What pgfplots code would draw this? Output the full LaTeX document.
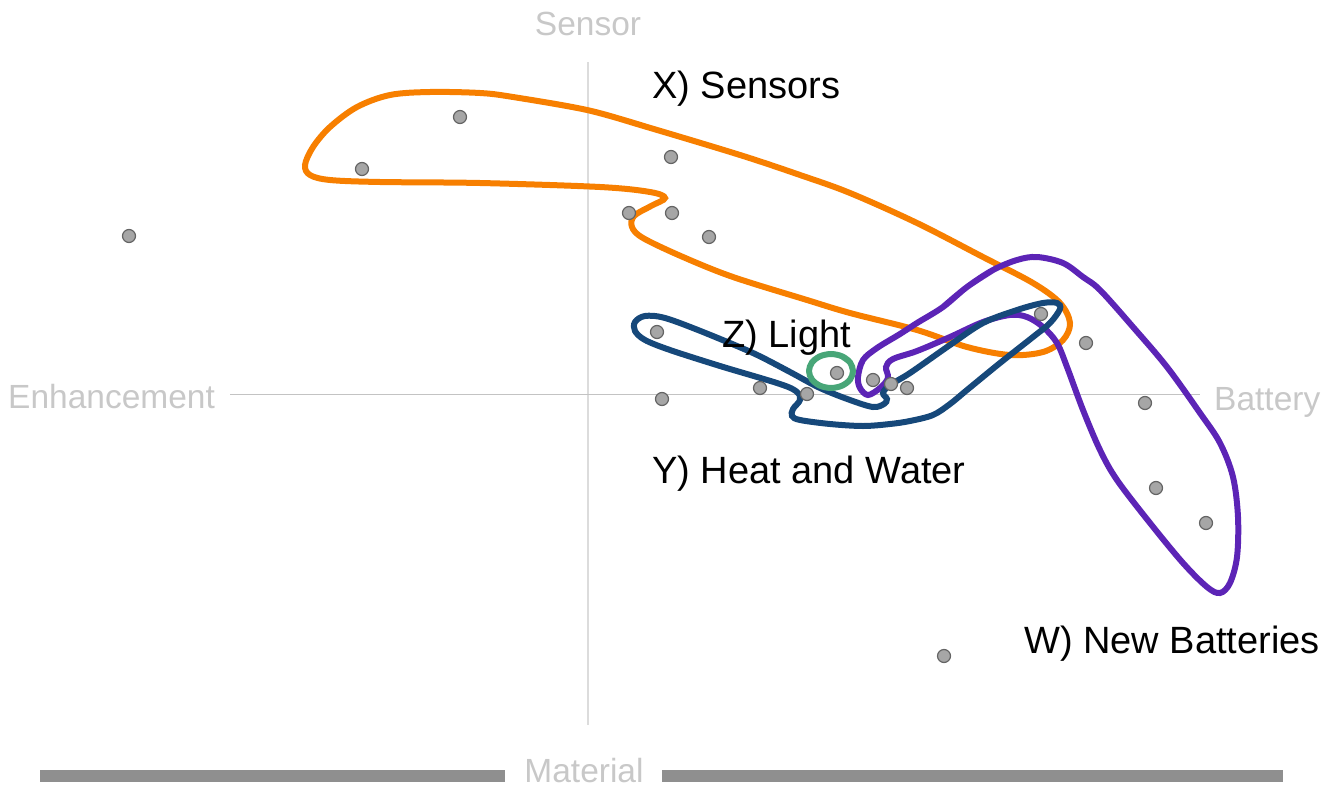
\documentclass[border=0pt]{standalone}
\usepackage{pgfplots}
\pgfplotsset{compat=1.18}
\usepackage{fontspec}
\setmainfont{Liberation Sans}
\definecolor{cOrange}{RGB}{247,127,0}
\definecolor{cBlue}{RGB}{22,72,122}
\definecolor{cPurple}{RGB}{92,36,182}
\definecolor{cGreen}{RGB}{72,166,120}
\definecolor{cAxisTxt}{RGB}{200,200,200}
\definecolor{cBar}{RGB}{143,143,143}
\begin{document}
\begin{tikzpicture}
\begin{axis}[
  x=1pt, y=1pt,
  xmin=0, xmax=1339, ymin=0, ymax=787,
  y dir=reverse,
  hide axis, clip=false,
]
% frame for bounding box
\path (axis cs:0,0) rectangle (axis cs:1339,787);
% axis lines
\addplot[color={rgb,255:red,220;green,220;blue,220}, line width=1.2pt] coordinates {(588,62) (588,725)};
\addplot[color={rgb,255:red,195;green,195;blue,195}, line width=1pt] coordinates {(230,394) (1200,394)};
% bottom bars
\addplot[cBar, line width=12pt] coordinates {(40,776) (505,776)};
\addplot[cBar, line width=12pt] coordinates {(662,776) (1283,776)};
% orange hull
\addplot[cOrange, line width=6pt, smooth, tension=0.55, mark=none] coordinates {
(513,97) (587,110) (647,127) (740,155) (800,175) (850,193) (917,223) (983,257) (1033,283) (1060,303) (1070,323) (1063,340) (1043,352) (1010,355) (967,347) (917,330) (850,313) (807,300) (733,277) (683,257) (643,238) (632,227) (634,216) (651,206) (665,198) (650,192) (600,187) (480,183) (380,182) (330,180) (310,175) (305,165) (313,147) (330,127) (357,107) (390,95) (430,92) (480,93) (513,97) (587,110) (647,127)};
% purple hull
\addplot[cPurple, line width=6pt, smooth, tension=0.55, mark=none] coordinates {
(943,307) (967,287) (993,270) (1017,260) (1037,257) (1063,263) (1083,277) (1100,290) (1133,327) (1167,367) (1200,413) (1220,443) (1233,477) (1238,517) (1237,557) (1230,583) (1220,593) (1207,587) (1183,563) (1150,523) (1117,480) (1100,450) (1083,410) (1067,367) (1057,343) (1043,327) (1027,317) (1010,315) (983,322) (950,337) (917,351) (893,359) (886,367) (888,378) (880,388) (868,395) (860,388) (858,377) (863,360) (877,348) (900,334) (917,323) (943,307) (967,287) (993,270)};
% blue hull
\addplot[cBlue, line width=6pt, smooth, tension=0.55, mark=none] coordinates {
(703,332) (753,353) (790,372) (820,388) (850,400) (873,407) (884,404) (887,399) (883,393) (890,385) (910,373) (950,345) (983,323) (1017,310) (1043,303) (1057,303) (1060,309) (1050,323) (1033,337) (1000,363) (967,390) (950,404) (933,415) (910,421) (890,424) (863,426) (830,424) (800,420) (792,416) (793,409) (800,400) (797,392) (780,384) (720,366) (670,350) (645,340) (635,331) (635,322) (645,316) (665,318) (703,332) (753,353) (790,372)};
% green hull
\addplot[cGreen, line width=6pt, smooth, tension=0.55, mark=none] coordinates {
(853,371) (850.1,362.5) (842,356.3) (831,354) (820,356.3) (811.9,362.5) (809,371) (811.9,379.5) (820,385.7) (831,388) (842,385.7) (850.1,379.5) (853,371) (850.1,362.5) (842,356.3)};
% points
\addplot[only marks, mark=*, mark size=6.5pt, mark options={fill={rgb,255:red,166;green,166;blue,166}, draw={rgb,255:red,100;green,100;blue,100}, line width=1.2pt}] coordinates {
(460,117) (362,169) (129,236) (671,157) (629,213) (672,213) (709,237)
(657,332) (662,399) (760,388) (807,394) (837,373) (873,380) (891,384) (907,388)
(1041,314) (1086,343) (1145,403) (1156,488) (1206,523) (944,656)};
% group labels
\node[anchor=base west, inner sep=0pt, font=\fontsize{38}{45}\selectfont] at (axis cs:652,98) {X) Sensors};
\node[anchor=base west, inner sep=0pt, font=\fontsize{38}{45}\selectfont] at (axis cs:722,347) {Z) Light};
\node[anchor=base west, inner sep=0pt, font=\fontsize{38}{45}\selectfont] at (axis cs:652,483) {Y) Heat and Water};
\node[anchor=base west, inner sep=0pt, font=\fontsize{38}{45}\selectfont] at (axis cs:1024,653) {W) New Batteries};
% axis labels
\node[anchor=base, inner sep=0pt, text=cAxisTxt, font=\fontsize{33.5}{40}\selectfont] at (axis cs:588,35) {Sensor};
\node[anchor=base west, inner sep=0pt, text=cAxisTxt, font=\fontsize{33.5}{40}\selectfont] at (axis cs:8,408) {Enhancement};
\node[anchor=base west, inner sep=0pt, text=cAxisTxt, font=\fontsize{33.5}{40}\selectfont] at (axis cs:1214,410) {Battery};
\node[anchor=base, inner sep=0pt, text=cAxisTxt, font=\fontsize{33.5}{40}\selectfont] at (axis cs:584,782) {Material};
\end{axis}
\end{tikzpicture}
\end{document}
